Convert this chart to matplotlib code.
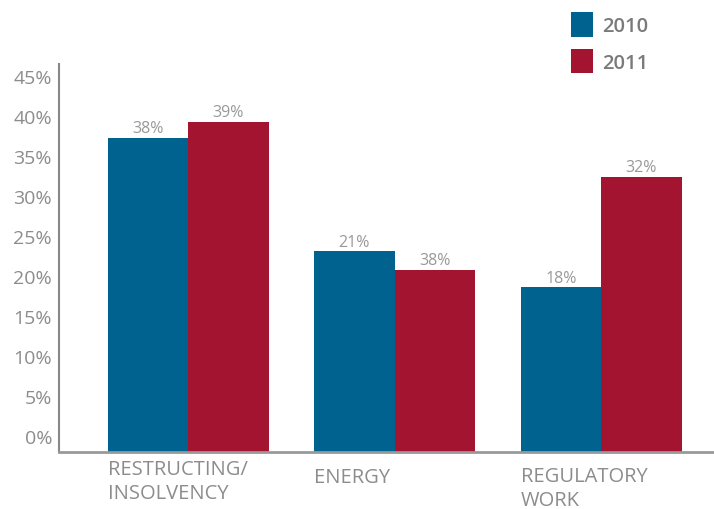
import matplotlib.pyplot as plt
import numpy as np

plt.rcParams['font.family'] = ['Open Sans', 'DejaVu Sans']

categories = ['RESTRUCTING/\nINSOLVENCY', 'ENERGY', 'REGULATORY\nWORK']
series = ['2010', '2011']
values_2010 = [37.25, 23.1, 18.6]
values_2011 = [39.25, 20.75, 32.4]
labels_2010 = ['38%', '21%', '18%']
labels_2011 = ['39%', '38%', '32%']
yticks = [0, 5, 10, 15, 20, 25, 30, 35, 40, 45]

blue = '#00628f'
red = '#a31431'
grey = '#8c8c8c'

fig = plt.figure(figsize=(7.14, 5.10), dpi=100)
ax = fig.add_axes([0.0826, 0.1118, 0.9174, 0.7607])

base = -2
x = np.arange(len(categories))
w = 0.39
b1 = ax.bar(x - w / 2, np.array(values_2010) - base, w, bottom=base, color=blue, label=series[0])
b2 = ax.bar(x + w / 2, np.array(values_2011) - base, w, bottom=base, color=red, label=series[1])

for bars, labs in [(b1, labels_2010), (b2, labels_2011)]:
    for r, t in zip(bars, labs):
        ax.text(r.get_x() + r.get_width() / 2, r.get_y() + r.get_height() + 0.2, t,
                ha='center', va='bottom', fontsize=11.5, color='#999999')

ax.set_xlim(-0.625, 2.547)
ax.set_ylim(base, 46.5)
ax.set_yticks(yticks)
ax.set_yticklabels([f'{v}%' for v in yticks], fontsize=14, color=grey)
ax.tick_params(axis='y', length=0, pad=5)
ax.set_xticks([])

# category labels, left aligned under the first bar of each group
offs = [-0.018, -0.038, -0.035]
for i, c in enumerate(categories):
    ax.text(x[i] - w, offs[i], c, transform=ax.get_xaxis_transform(), ha='left', va='top',
            fontsize=14.5, color=grey, linespacing=1.3)

for s in ['top', 'right']:
    ax.spines[s].set_visible(False)
ax.spines['left'].set_color('#888888')
ax.spines['left'].set_linewidth(1.5)
ax.spines['bottom'].set_color('#999999')
ax.spines['bottom'].set_linewidth(2)

leg = fig.legend(loc='upper left', bbox_to_anchor=(0.774, 1.01), frameon=False,
                 handlelength=1.1, handleheight=1.5, handletextpad=0.45, labelspacing=0.6,
                 prop={'size': 14.5, 'weight': 'semibold'})
for t in leg.get_texts():
    t.set_color('#7a7a7a')

fig.savefig('out.png', dpi=100)
